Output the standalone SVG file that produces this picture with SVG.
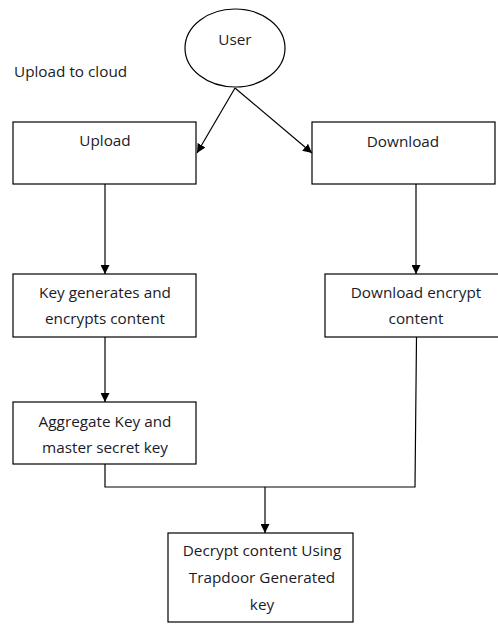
<svg xmlns="http://www.w3.org/2000/svg" width="498" height="624" viewBox="0 0 498 624">
<style>
.box{fill:#fff;stroke:#000;stroke-width:1.2}
.t{font-family:"Open Sans","Liberation Sans",sans-serif;font-size:15.3px;fill:#1a1a28;text-anchor:middle}
.c{fill:none;stroke:#000;stroke-width:1.2}
</style>
<defs>
<marker id="ah" viewBox="0 0 10 10" refX="10" refY="5" markerWidth="9" markerHeight="9" markerUnits="userSpaceOnUse" orient="auto">
<path d="M0,0 L10,5 L0,10 z" fill="#000"/>
</marker>
</defs>
<rect width="498" height="624" fill="#fff"/>
<text class="t" x="14" y="77" style="text-anchor:start">Upload to cloud</text>
<g id="user">
<ellipse class="box" cx="235" cy="48" rx="50" ry="39"/>
<text class="t" x="235" y="45">User</text>
</g>
<g id="upload">
<rect class="box" x="13" y="122" width="183" height="62"/>
<text class="t" x="105" y="146">Upload</text>
</g>
<g id="download">
<rect class="box" x="312" y="122" width="183" height="62"/>
<text class="t" x="403" y="147">Download</text>
</g>
<g id="keygen">
<rect class="box" x="13" y="274" width="183" height="63"/>
<text class="t" x="105" y="298">Key generates and</text>
<text class="t" x="105" y="324">encrypts content</text>
</g>
<g id="dlenc">
<rect class="box" x="325" y="274" width="180" height="63"/>
<text class="t" x="416" y="298">Download encrypt</text>
<text class="t" x="416" y="324">content</text>
</g>
<g id="aggregate">
<rect class="box" x="13" y="402" width="183" height="62"/>
<text class="t" x="105" y="427">Aggregate Key and</text>
<text class="t" x="105" y="453">master secret key</text>
</g>
<g id="decrypt">
<rect class="box" x="168" y="533" width="185" height="89"/>
<text class="t" x="262" y="556">Decrypt content Using</text>
<text class="t" x="262" y="583">Trapdoor Generated</text>
<text class="t" x="262" y="610">key</text>
</g>
<g id="connectors">
<line class="c" x1="235" y1="88" x2="197" y2="153" marker-end="url(#ah)"/>
<line class="c" x1="235" y1="88" x2="312" y2="153" marker-end="url(#ah)"/>
<line class="c" x1="105" y1="184" x2="105" y2="274" marker-end="url(#ah)"/>
<line class="c" x1="416" y1="184" x2="416" y2="274" marker-end="url(#ah)"/>
<line class="c" x1="105" y1="337" x2="105" y2="402" marker-end="url(#ah)"/>
<polyline class="c" points="105,464 105,487 415,487 416.5,337"/>
<line class="c" x1="265" y1="487" x2="265" y2="533" marker-end="url(#ah)"/>
</g>
</svg>
